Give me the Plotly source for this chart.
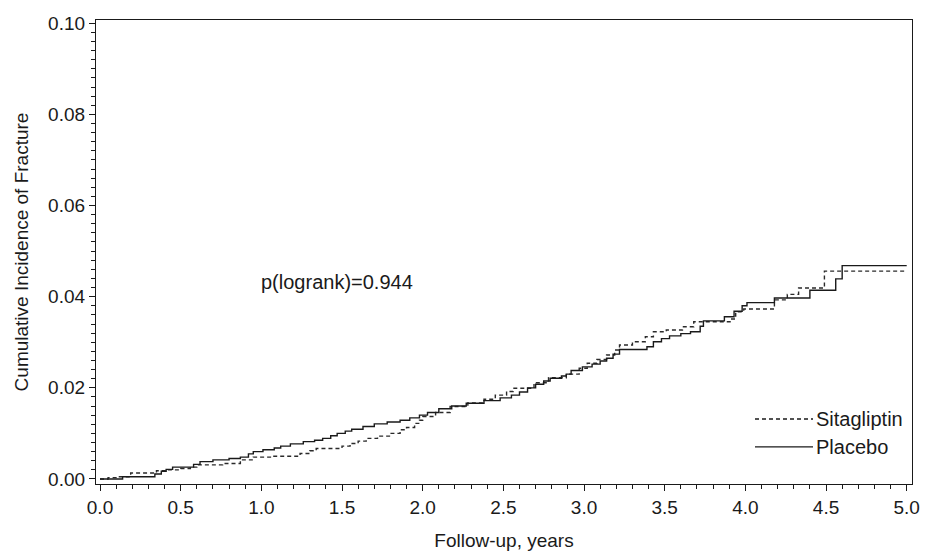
import plotly.graph_objects as go

# Follow-up time (years) and cumulative incidence
placebo_t = [0.00, 0.14, 0.34, 0.38, 0.41, 0.45, 0.58, 0.62, 0.70, 0.80, 0.87, 0.92, 0.95,
             1.01, 1.08, 1.12, 1.18, 1.26, 1.33, 1.38, 1.43, 1.47, 1.52, 1.56, 1.63, 1.70,
             1.78, 1.86, 1.92, 1.98, 2.03, 2.10, 2.18, 2.27, 2.38, 2.48, 2.55, 2.60, 2.65,
             2.70, 2.75, 2.79, 2.86, 2.89, 2.92, 2.99, 3.05, 3.10, 3.14, 3.18, 3.22, 3.39,
             3.43, 3.48, 3.53, 3.60, 3.66, 3.72, 3.74, 3.87, 3.93, 3.98, 4.01, 4.18, 4.40,
             4.56, 4.60, 5.00]
placebo_v = [0.0000, 0.0005, 0.0011, 0.0017, 0.0021, 0.0026, 0.0032, 0.0038, 0.0042, 0.0045,
             0.0048, 0.0055, 0.0060, 0.0064, 0.0068, 0.0072, 0.0077, 0.0082, 0.0085, 0.0089,
             0.0095, 0.0100, 0.0105, 0.0109, 0.0115, 0.0121, 0.0125, 0.0129, 0.0134, 0.0140,
             0.0146, 0.0154, 0.0160, 0.0166, 0.0172, 0.0178, 0.0184, 0.0191, 0.0200, 0.0208,
             0.0215, 0.0221, 0.0226, 0.0230, 0.0238, 0.0246, 0.0252, 0.0259, 0.0265, 0.0274,
             0.0284, 0.0290, 0.0301, 0.0308, 0.0314, 0.0319, 0.0323, 0.0335, 0.0347, 0.0356,
             0.0368, 0.0380, 0.0387, 0.0397, 0.0414, 0.0439, 0.0468, 0.0468]

sita_t = [0.00, 0.05, 0.10, 0.19, 0.35, 0.41, 0.50, 0.56, 0.60, 0.76, 0.87, 0.95, 1.07,
          1.24, 1.30, 1.34, 1.50, 1.55, 1.60, 1.65, 1.72, 1.80, 1.86, 1.90, 1.95, 1.98,
          2.00, 2.08, 2.17, 2.28, 2.38, 2.45, 2.52, 2.56, 2.69, 2.78, 2.89, 2.97, 3.02,
          3.08, 3.14, 3.19, 3.22, 3.30, 3.38, 3.43, 3.51, 3.61, 3.68, 3.91, 3.94, 3.99,
          4.18, 4.26, 4.33, 4.49, 5.00]
sita_v = [0.0000, 0.0003, 0.0005, 0.0013, 0.0018, 0.0020, 0.0023, 0.0026, 0.0031, 0.0034,
          0.0042, 0.0048, 0.0050, 0.0056, 0.0062, 0.0067, 0.0072, 0.0078, 0.0083, 0.0089,
          0.0094, 0.0100, 0.0108, 0.0113, 0.0122, 0.0129, 0.0137, 0.0146, 0.0159, 0.0167,
          0.0175, 0.0184, 0.0192, 0.0199, 0.0211, 0.0222, 0.0230, 0.0243, 0.0254, 0.0262,
          0.0272, 0.0283, 0.0294, 0.0301, 0.0312, 0.0323, 0.0327, 0.0334, 0.0345, 0.0351,
          0.0367, 0.0373, 0.0393, 0.0405, 0.0419, 0.0456, 0.0456]

x_ticks = [0.0, 0.5, 1.0, 1.5, 2.0, 2.5, 3.0, 3.5, 4.0, 4.5, 5.0]
y_ticks = [0.00, 0.02, 0.04, 0.06, 0.08, 0.10]
series_names = ["Sitagliptin", "Placebo"]
pvalue_text = "p(logrank)=0.944"

FONT = "Liberation Sans, Arial, sans-serif"
INK = "#1a1a1a"
DASH = "4px,3px"

fig = go.Figure()
fig.add_trace(go.Scatter(x=sita_t, y=sita_v, mode="lines", name=series_names[0],
                         line=dict(color="#2a2a2a", width=1.4, dash=DASH, shape="hv")))
fig.add_trace(go.Scatter(x=placebo_t, y=placebo_v, mode="lines", name=series_names[1],
                         line=dict(color=INK, width=1.4, shape="hv")))

# p-value annotation
fig.add_annotation(x=1.47, y=0.0432, xref="x", yref="y", text=pvalue_text, showarrow=False,
                   font=dict(family=FONT, size=20, color=INK))

# manual legend (bottom right, inside plot)
leg = [(0.140, DASH, series_names[0]), (0.080, None, series_names[1])]
for yy, dsh, name in leg:
    fig.add_shape(type="line", xref="paper", yref="paper", x0=0.8076, x1=0.8787, y0=yy, y1=yy,
                  line=dict(color=INK, width=1.4, dash=dsh if dsh else "solid"))
    fig.add_annotation(xref="paper", yref="paper", x=0.8800, y=yy, text=name, showarrow=False,
                       xanchor="left", yanchor="middle", font=dict(family=FONT, size=20, color=INK))

axis_common = dict(showline=True, linecolor=INK, linewidth=1.3, mirror=True, showgrid=False,
                   zeroline=False, ticks="outside", tickcolor=INK, tickwidth=1.2, ticklen=6,
                   tickfont=dict(family=FONT, size=19, color=INK))

fig.update_xaxes(**axis_common, range=[-0.0248, 5.0328], tickvals=x_ticks,
                 ticktext=[f"{v:.1f}" for v in x_ticks],
                 minor=dict(dtick=0.1, tick0=0, ticks="outside", ticklen=4, tickcolor=INK, tickwidth=1),
                 title=dict(text="Follow-up, years", font=dict(family=FONT, size=19, color=INK), standoff=16))
fig.update_yaxes(**axis_common, range=[-0.0011, 0.1007], tickvals=y_ticks,
                 ticktext=[f"{v:.2f}" for v in y_ticks],
                 minor=dict(dtick=0.002, tick0=0, ticks="outside", ticklen=4, tickcolor=INK, tickwidth=1),
                 title=dict(text="Cumulative Incidence of Fracture", font=dict(family=FONT, size=19, color=INK), standoff=14))

fig.update_layout(width=925, height=554, paper_bgcolor="white", plot_bgcolor="white",
                  margin=dict(l=96, r=13, t=20, b=70, autoexpand=False), showlegend=False,
                  font=dict(family=FONT, color=INK))

fig.write_html("out.html", config={"displayModeBar": False},
               post_script="document.body.style.margin='0';document.body.style.overflow='hidden';")
